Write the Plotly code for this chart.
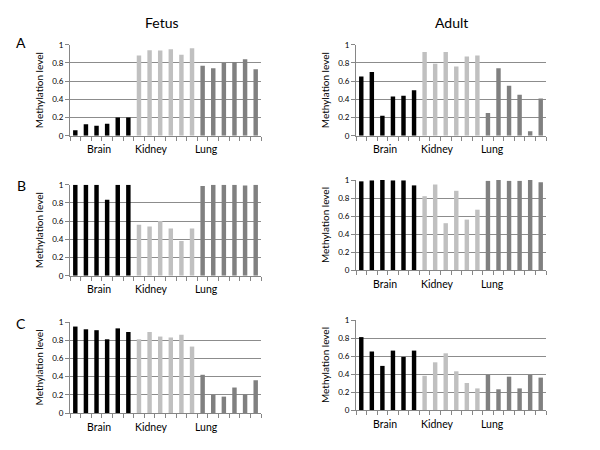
import plotly.graph_objects as go

tissues = ["Brain", "Kidney", "Lung"]
tissue_colors = ["#000000", "#c0c0c0", "#808080"]

fetus_A = [0.06, 0.125, 0.11, 0.13, 0.20, 0.20,
           0.88, 0.94, 0.935, 0.95, 0.89, 0.96,
           0.77, 0.74, 0.80, 0.81, 0.84, 0.73]
adult_A = [0.65, 0.70, 0.22, 0.43, 0.44, 0.50,
           0.92, 0.79, 0.92, 0.76, 0.87, 0.88,
           0.25, 0.74, 0.55, 0.45, 0.05, 0.41]
fetus_B = [1.0, 1.0, 1.0, 0.835, 1.0, 1.0,
           0.56, 0.54, 0.60, 0.52, 0.38, 0.52,
           0.985, 1.0, 1.0, 1.0, 0.99, 1.0]
adult_B = [0.985, 0.995, 1.0, 0.995, 0.995, 0.94,
           0.82, 0.95, 0.52, 0.88, 0.56, 0.67,
           0.99, 1.0, 0.99, 0.99, 1.0, 0.975]
fetus_C = [0.95, 0.92, 0.91, 0.81, 0.93, 0.89,
           0.81, 0.89, 0.84, 0.83, 0.86, 0.73,
           0.42, 0.20, 0.18, 0.28, 0.205, 0.36]
adult_C = [0.81, 0.65, 0.49, 0.66, 0.59, 0.66,
           0.38, 0.53, 0.63, 0.43, 0.30, 0.24,
           0.39, 0.23, 0.37, 0.24, 0.39, 0.36]

panel_letters = ["A", "B", "C"]
column_titles = ["Fetus", "Adult"]
y_ticks = [0, 0.2, 0.4, 0.6, 0.8, 1]
y_tick_text = ["0", "0.2", "0.4", "0.6", "0.8", "1"]

W, H = 600, 450
OFF = 8  # default page body margin
FONT = "Lato, 'Open Sans', sans-serif"


def px_x(v):
    return (v - OFF) / W


def px_y(v):
    return 1 - (v - OFF) / H


# panel geometry in page pixels: (left, right, top, bottom)
panels = [
    (fetus_A, (70, 261, 44.7, 135.7)),
    (adult_A, (356, 546, 44.7, 135.7)),
    (fetus_B, (70, 261, 184.7, 275.7)),
    (adult_B, (356, 546, 180, 270)),
    (fetus_C, (70, 261, 322, 413)),
    (adult_C, (356, 546, 320, 410)),
]

colors = []
for c in tissue_colors:
    colors += [c] * 6

fig = go.Figure()
annotations = []
for i, (vals, (l, r, t, b)) in enumerate(panels):
    n = i + 1
    xa = "x" if n == 1 else f"x{n}"
    ya = "y" if n == 1 else f"y{n}"
    fig.add_trace(go.Bar(x=list(range(18)), y=vals, marker_color=colors,
                         marker_line_width=0, width=0.42,
                         xaxis=xa, yaxis=ya, showlegend=False))
    xkey = "xaxis" if n == 1 else f"xaxis{n}"
    ykey = "yaxis" if n == 1 else f"yaxis{n}"
    fig.layout[xkey] = dict(domain=[px_x(l), px_x(r)], anchor=ya, range=[-0.5, 17.5],
                            automargin=False,
                            showgrid=False, zeroline=False, showline=True,
                            linecolor="#868686", linewidth=1,
                            tickmode="array", tickvals=[k - 0.5 for k in range(19)],
                            ticktext=[""] * 19, ticks="outside", ticklen=4,
                            tickcolor="#868686", fixedrange=True)
    fig.layout[ykey] = dict(domain=[px_y(b), px_y(t)], anchor=xa, range=[0, 1],
                            automargin=False,
                            tickvals=y_ticks, ticktext=y_tick_text,
                            showgrid=True, gridcolor="#8c8c8c", gridwidth=1,
                            zeroline=False, showline=True, linecolor="#868686",
                            ticks="outside", ticklen=4, tickcolor="#868686",
                            tickfont=dict(size=8, color="#000", family=FONT),
                            title=dict(text="Methylation level", standoff=6,
                                       font=dict(size=10, color="#000", family=FONT)),
                            fixedrange=True)
    # tissue labels
    for name, xpos in zip(tissues, [2.25, 7.2, 12.4]):
        annotations.append(dict(x=xpos, y=px_y(b + 13.5), xref=xa, yref="paper",
                                xanchor="center", yanchor="middle",
                                text=name, showarrow=False,
                                font=dict(size=10.5, color="#000", family=FONT)))

for name, xc in zip(column_titles, [162, 451]):
    annotations.append(dict(x=px_x(xc), y=px_y(23), xref="paper", yref="paper",
                            xanchor="center", yanchor="middle",
                            text=name, showarrow=False,
                            font=dict(size=14, color="#000", family=FONT)))
for name, yc in zip(panel_letters, [43, 185, 323]):
    annotations.append(dict(x=px_x(21), y=px_y(yc), xref="paper", yref="paper",
                            xanchor="center", yanchor="middle",
                            text=name, showarrow=False,
                            font=dict(size=14, color="#000", family=FONT)))

fig.update_layout(template="none", width=W, height=H,
                  margin=dict(l=0, r=0, t=0, b=0, autoexpand=False),
                  paper_bgcolor="white", plot_bgcolor="white",
                  annotations=annotations, bargap=0.58,
                  font=dict(family=FONT))
fig.write_html("out.html")
